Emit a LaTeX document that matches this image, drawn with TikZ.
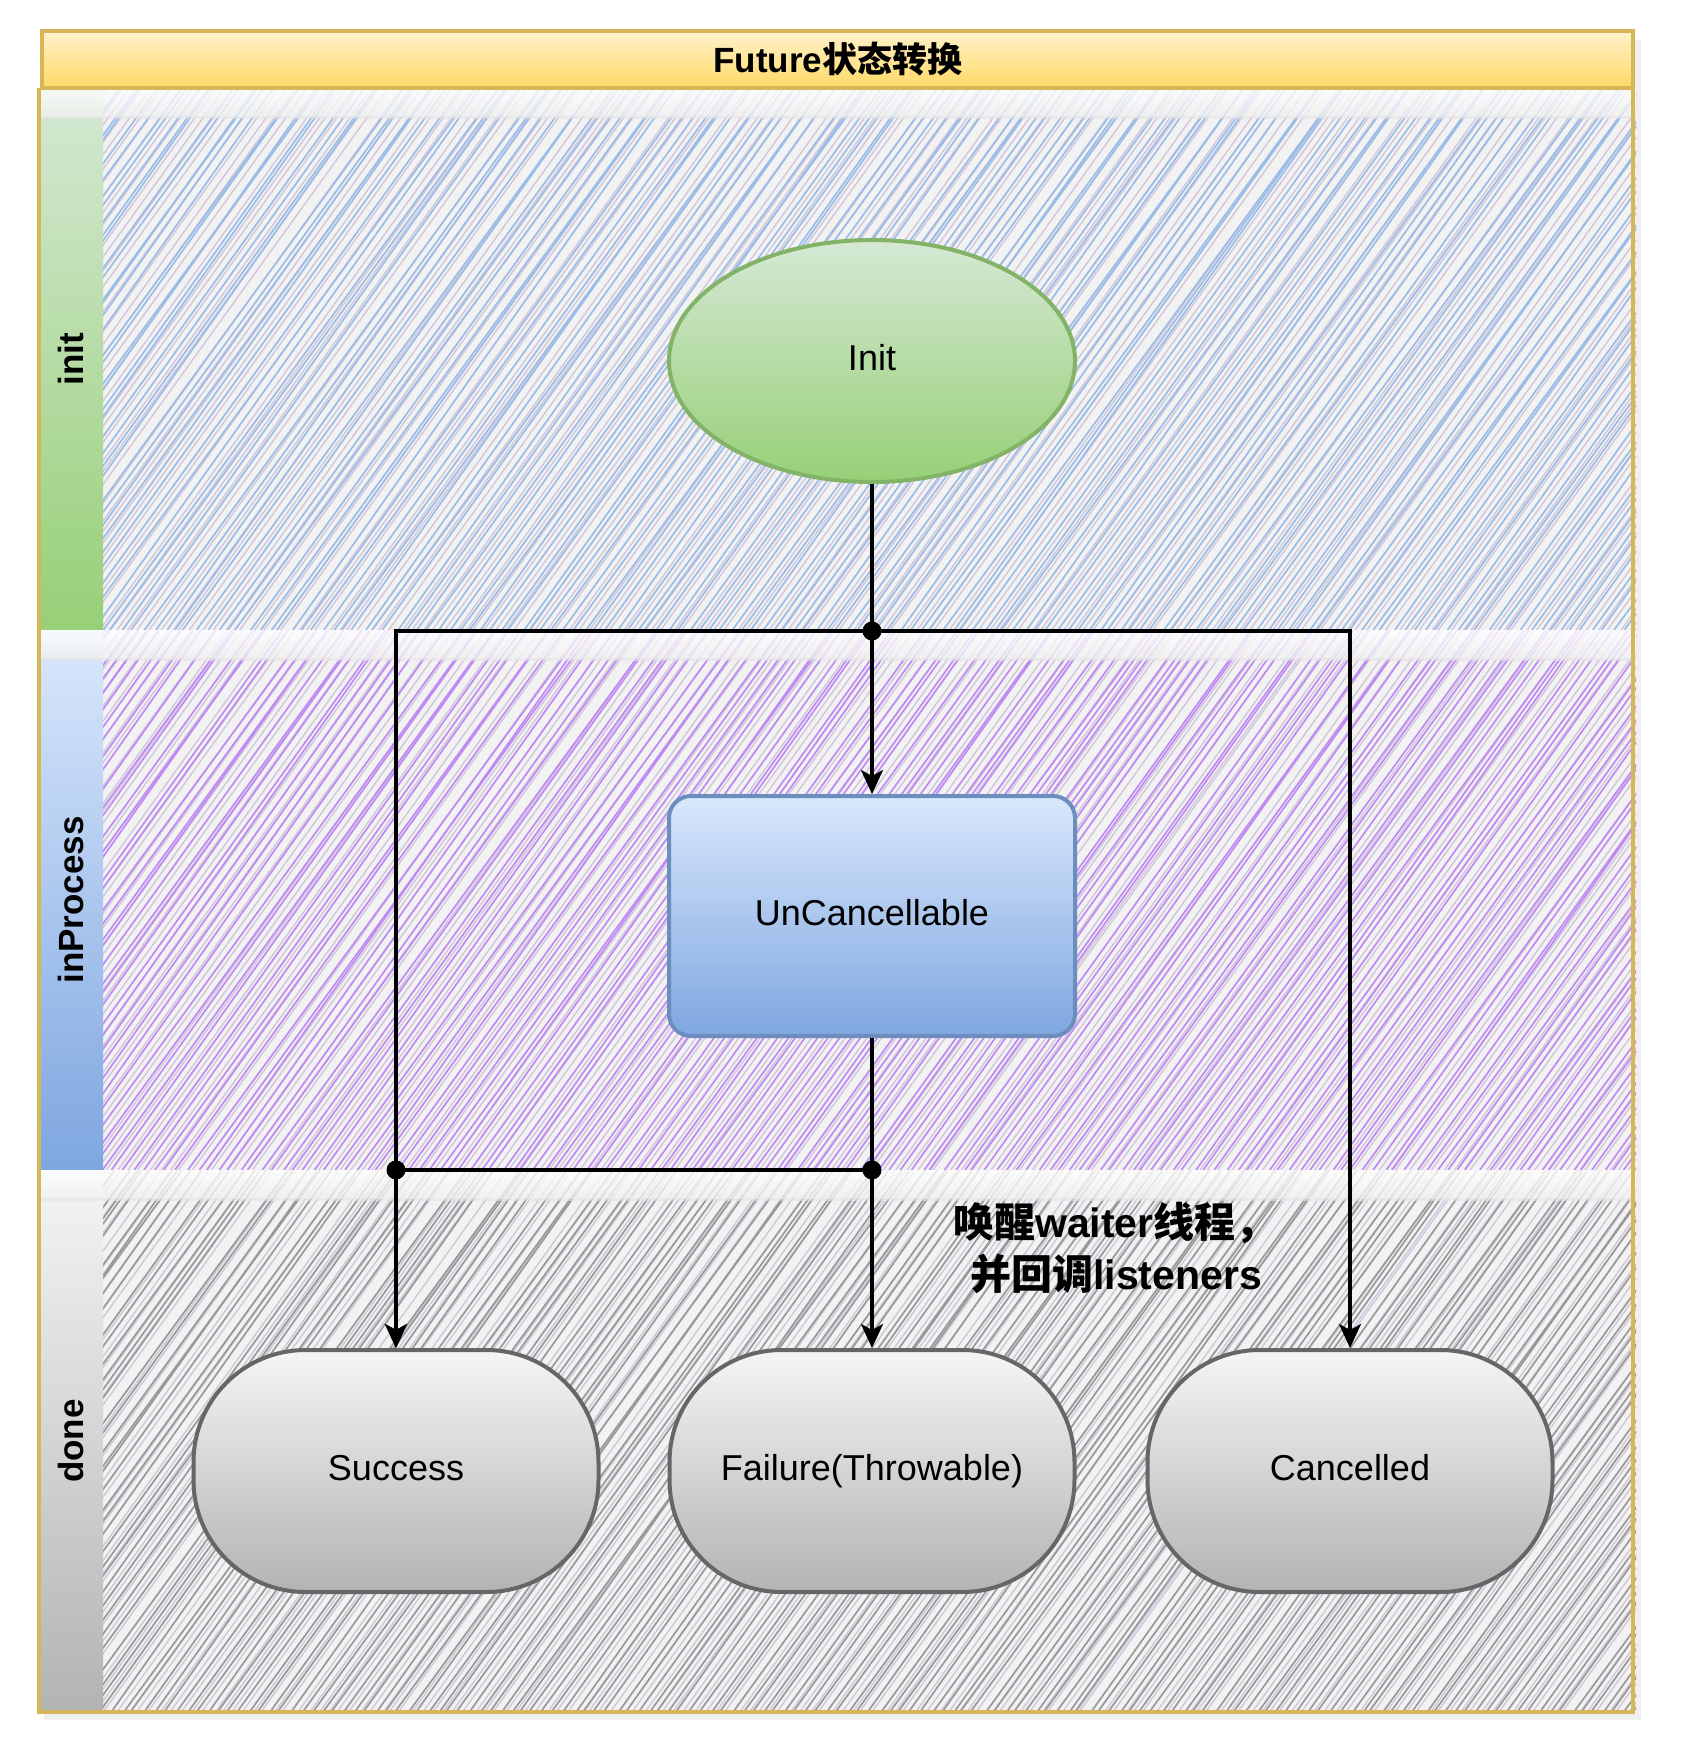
\documentclass[tikz,border=0pt]{standalone}
\usepackage{fontspec}
\setmainfont{Liberation Sans}
\newfontfamily\cjk{Noto Sans CJK SC}
\newfontfamily\hbold{Liberation Sans Bold}
\usetikzlibrary{arrows.meta,shapes.geometric,calc}
\definecolor{ybord}{HTML}{D6B656}
\definecolor{ytop}{HTML}{FFF2CC}
\definecolor{ybot}{HTML}{FFD966}
\definecolor{gtop}{HTML}{D5E8D4}
\definecolor{gbot}{HTML}{97D077}
\definecolor{gbord}{HTML}{82B366}
\definecolor{btop}{HTML}{DAE8FC}
\definecolor{bbot}{HTML}{7EA6E0}
\definecolor{bbord}{HTML}{6C8EBF}
\definecolor{dtop}{HTML}{F5F5F5}
\definecolor{dbot}{HTML}{B3B3B3}
\definecolor{dbord}{HTML}{666666}
\definecolor{lanebg}{HTML}{F2F2F2}
\definecolor{hinit}{HTML}{9CBCE8}
\definecolor{hproc}{HTML}{C08AF5}
\definecolor{hdone}{HTML}{999999}
\definecolor{hsec}{HTML}{D2C6DA}
\tikzset{
  conn/.style={line width=3.2pt, draw=black},
  arr/.style={conn, -{Stealth[length=24pt,width=22pt,inset=6pt]}},
  jdot/.style={circle, fill=black, inner sep=0pt, minimum size=19pt},
  nodetxt/.style={font=\fontsize{36}{42}\selectfont, text=black, text height=26pt, text depth=8pt},
  lanelbl/.style={rotate=90, font=\bfseries\fontsize{35}{40}\selectfont},
  donenode/.style={rectangle, rounded corners=112pt, minimum width=405pt, minimum height=242pt,
     draw=dbord, line width=4pt, top color=dtop, bottom color=dbot, nodetxt},
  hatchmain/.style={line width=1.7pt},
  hatchsec/.style={line width=1.4pt, draw=hsec},
}
\newcommand{\hatchlane}[3]{% top, bottom, colour
  \begin{scope}
    \clip (103,#1) rectangle (1636,#2);
    \fill[lanebg] (103,#1) rectangle (1636,#2);
    \pgfmathsetmacro{\hh}{#2-#1}
    \pgfmathsetmacro{\run}{\hh*0.72}
    \foreach \i in {0,...,190} {
      \pgfmathsetmacro{\xa}{103-\run+\i*10.5+rand*3}
      \pgfmathsetmacro{\xb}{\xa+5.2+rand*2}
      \draw[hatchsec] (\xb,#2) -- ++(\run,-\hh);
      \draw[hatchmain,draw=#3] (\xa,#2) -- ++(\run+rand*8,-\hh);
    }
  \end{scope}
}
\begin{document}
\begin{tikzpicture}[x=1pt,y=-1pt]
\pgfmathsetseed{7}
\useasboundingbox (0,0) rectangle (1683,1764);
% container shadow
\fill[black!6] (44,40) rectangle (1641,1720);
\fill[white] (0,0) rectangle (38,1764);
% lanes
\hatchlane{88}{630}{hinit}
\hatchlane{630}{1170}{hproc}
\hatchlane{1170}{1712}{hdone}
% label column
\shade[top color=gtop, bottom color=gbot] (38,88) rectangle (103,630);
\shade[top color=btop, bottom color=bbot] (38,630) rectangle (103,1170);
\shade[top color=dtop, bottom color=dbot] (38,1170) rectangle (103,1712);
% gloss bands
\foreach \t in {88,630,1170} {
  \shade[top color=white, bottom color=white!94!black, opacity=0.8] (38,\t) rectangle (1636,\t+28);
  \fill[black!10, opacity=0.6] (38,\t+28) rectangle (1636,\t+31);
}
% lane labels
\node[lanelbl] (lblinit) at (71,359) {init};
\node[lanelbl] (lblproc) at (71,900) {inProcess};
\node[lanelbl] (lbldone) at (71,1441) {done};
% container border
\draw[ybord, line width=3.5pt] (39,88) -- (39,1712) -- (1633,1712) -- (1633,88);
% title bar
\draw[ybord, line width=3.5pt, top color=ytop, bottom color=ybot] (42,31) rectangle (1633,88);
\node[font=\hbold\fontsize{35}{40}\selectfont] (title) at (838,59) {Future{\cjk\bfseries 状态转换}};
% nodes
\node[ellipse, minimum width=406pt, minimum height=242pt, draw=gbord, line width=4pt,
      top color=gtop, bottom color=gbot, nodetxt] (init) at (872,361) {Init};
\node[rectangle, rounded corners=22pt, minimum width=406pt, minimum height=240pt, draw=bbord,
      line width=4pt, top color=btop, bottom color=bbot, nodetxt] (uc) at (872,916) {UnCancellable};
\node[donenode] (succ) at (396,1471) {Success};
\node[donenode] (fail) at (872,1471) {Failure(Throwable)};
\node[donenode] (canc) at (1350,1471) {Cancelled};
% junctions
\coordinate (j1) at (872,631);
\coordinate (j2) at (396,1170);
\coordinate (j3) at (872,1170);
% connectors
\draw[arr] (init.south) -- (j1) -| (succ.north);
\draw[arr] (init.south) -- (j1) -| (canc.north);
\draw[arr] (init.south) -- (uc.north);
\draw[arr] (uc.south) -- (fail.north);
\draw[arr] (uc.south) -- (j3) -- (j2) -- (succ.north);
\node[jdot] (d1) at (j1) {};
\node[jdot] (d2) at (j2) {};
\node[jdot] (d3) at (j3) {};
% annotation
\node[font=\hbold\fontsize{41}{52}\selectfont, align=left, inner sep=0pt, anchor=west] (note) at (953,1248)
  {{\cjk\bfseries 唤醒}waiter{\cjk\bfseries 线程，}\\\hspace*{17pt}{\cjk\bfseries 并回调}listeners};
\end{tikzpicture}
\end{document}
